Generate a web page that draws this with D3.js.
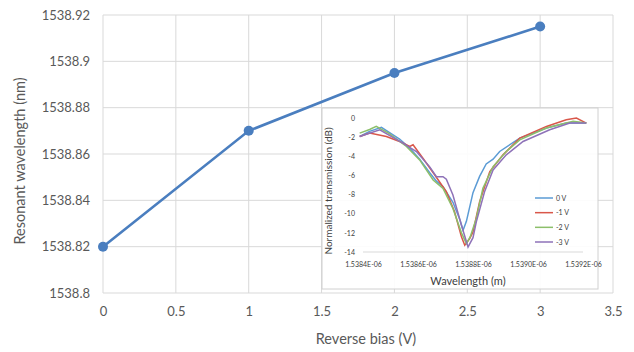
<!DOCTYPE html>
<html>
<head>
<meta charset="utf-8">
<script src="https://cdn.jsdelivr.net/npm/d3@7"></script>
<style>
  body { margin: 0; background: #fff; }
  svg { display: block; }
  text { font-family: Lato, "Open Sans", sans-serif; }
</style>
</head>
<body>
<svg id="chart" width="634" height="352"></svg>
<script>
// Resonance shift versus reverse bias
const biasVolts = [0, 1, 2, 3];
const resonantNm = [1538.82, 1538.87, 1538.895, 1538.915];
const biasTicks = [0, 0.5, 1, 1.5, 2, 2.5, 3, 3.5];
const resonantTicks = [1538.8, 1538.82, 1538.84, 1538.86, 1538.88, 1538.9, 1538.92];

// Inset: normalized transmission spectra (wavelength in nm, transmission in dB)
const spectrumLabels = ["0 V", "-1 V", "-2 V", "-3 V"];
const spectrumColors = ["#5b9bd5", "#d9574a", "#8cbf6a", "#8e72b8"];
const wl0V  = [1538.388, 1538.424, 1538.467, 1538.533, 1538.570, 1538.606, 1538.642, 1538.667, 1538.691, 1538.727, 1538.752, 1538.764, 1538.776, 1538.800, 1538.824, 1538.848, 1538.873, 1538.897, 1538.970, 1539.067, 1539.139, 1539.212];
const dB0V  = [-1.93, -1.40, -0.98, -2.20, -3.15, -4.30, -5.70, -6.60, -7.18, -8.80, -10.60, -11.73, -10.80, -7.80, -6.10, -4.80, -4.30, -3.50, -2.10, -1.05, -0.53, -0.53];
const wl1V  = [1538.388, 1538.424, 1538.485, 1538.533, 1538.570, 1538.582, 1538.618, 1538.661, 1538.703, 1538.733, 1538.758, 1538.770, 1538.788, 1538.800, 1538.824, 1538.861, 1538.909, 1538.970, 1539.067, 1539.139, 1539.176, 1539.212];
const dB1V  = [-1.93, -1.58, -1.93, -2.45, -2.98, -2.80, -4.20, -5.95, -7.70, -9.80, -12.40, -13.30, -12.60, -11.90, -8.75, -5.60, -3.85, -2.10, -0.88, -0.18, 0.00, -0.53];
const wl2V  = [1538.388, 1538.424, 1538.448, 1538.494, 1538.558, 1538.606, 1538.655, 1538.691, 1538.727, 1538.758, 1538.776, 1538.790, 1538.812, 1538.836, 1538.873, 1538.921, 1538.970, 1539.067, 1539.164, 1539.212];
const dB2V  = [-1.58, -1.20, -0.88, -1.60, -2.98, -4.38, -6.48, -7.35, -9.45, -12.00, -13.13, -12.40, -10.50, -7.35, -5.08, -3.50, -2.28, -1.05, -0.35, -0.53];
const wl3V  = [1538.388, 1538.461, 1538.545, 1538.594, 1538.642, 1538.667, 1538.691, 1538.703, 1538.727, 1538.758, 1538.782, 1538.800, 1538.812, 1538.842, 1538.873, 1538.921, 1538.982, 1539.079, 1539.152, 1539.212];
const dB3V  = [-1.93, -1.23, -2.63, -3.50, -5.08, -6.13, -6.13, -6.40, -8.05, -11.20, -13.48, -12.50, -10.85, -7.70, -5.43, -3.85, -2.45, -1.23, -0.53, -0.53];
const wavelengthTicks = [1538.4, 1538.6, 1538.8, 1539.0, 1539.2];
const transmissionTicks = [0, -2, -4, -6, -8, -10, -12, -14];

const svg = d3.select("#chart");
const textColor = "#595959";
const gridColor = "#d9d9d9";

// ---- main chart ----
const x = d3.scaleLinear().domain([0, 3.5]).range([103, 613]);
const y = d3.scaleLinear().domain([1538.8, 1538.92]).range([293, 15]);

const grid = svg.append("g");
grid.selectAll("line.h").data(resonantTicks).join("line")
  .attr("x1", x(0)).attr("x2", x(3.5))
  .attr("y1", d => y(d)).attr("y2", d => y(d))
  .attr("stroke", gridColor).attr("stroke-width", 1);
grid.selectAll("line.v").data(biasTicks).join("line")
  .attr("x1", d => x(d)).attr("x2", d => x(d))
  .attr("y1", y(1538.8)).attr("y2", y(1538.92))
  .attr("stroke", gridColor).attr("stroke-width", 1);

const yAxis = d3.axisLeft(y).tickValues(resonantTicks)
  .tickFormat(d => String(+d.toFixed(2))).tickSize(0).tickPadding(13);
svg.append("g").attr("transform", `translate(${x(0)},0)`).call(yAxis)
  .call(g => g.select(".domain").remove())
  .selectAll("text").attr("fill", textColor).style("font-size", "13px")
  .style("font-family", "Lato, sans-serif");

const xAxis = d3.axisBottom(x).tickValues(biasTicks)
  .tickFormat(d => String(d)).tickSize(0).tickPadding(14);
svg.append("g").attr("transform", `translate(0,${y(1538.8)})`).call(xAxis)
  .call(g => g.select(".domain").remove())
  .selectAll("text").attr("fill", textColor).style("font-size", "13px")
  .style("font-family", "Lato, sans-serif");

svg.append("text")
  .attr("x", 366).attr("y", 344).attr("text-anchor", "middle")
  .attr("fill", textColor).style("font-size", "14.5px")
  .text("Reverse bias (V)");
svg.append("text")
  .attr("transform", "translate(25,161) rotate(-90)").attr("text-anchor", "middle")
  .attr("fill", textColor).style("font-size", "14.5px")
  .text("Resonant wavelength (nm)");

const mainData = biasVolts.map((v, i) => [v, resonantNm[i]]);
svg.append("path").datum(mainData)
  .attr("fill", "none").attr("stroke", "#4a7ebf").attr("stroke-width", 2.6)
  .attr("d", d3.line().x(d => x(d[0])).y(d => y(d[1])));
svg.selectAll("circle.pt").data(mainData).join("circle")
  .attr("cx", d => x(d[0])).attr("cy", d => y(d[1])).attr("r", 5)
  .attr("fill", "#4a7ebf");

// ---- inset spectra ----
const inset = svg.append("g");
inset.append("rect")
  .attr("x", 322).attr("y", 108).attr("width", 276).attr("height", 181)
  .attr("fill", "#fff").attr("fill-opacity", 0.9)
  .attr("stroke", "#d0d0d0").attr("stroke-width", 1);

const ix = d3.scaleLinear().domain([1538.4, 1539.2]).range([363, 583]);
const iy = d3.scaleLinear().domain([-14, 0]).range([252, 118]);

inset.append("line")
  .attr("x1", ix(1538.4)).attr("x2", ix(1539.2))
  .attr("y1", iy(-14)).attr("y2", iy(-14))
  .attr("stroke", "#d9d9d9");

const iyAxis = d3.axisLeft(iy).tickValues(transmissionTicks)
  .tickFormat(d => String(d)).tickSize(0).tickPadding(8);
inset.append("g").attr("transform", `translate(${ix(1538.4)},0)`).call(iyAxis)
  .call(g => g.select(".domain").remove())
  .selectAll("text").attr("fill", "#404040").style("font-size", "7px")
  .style("font-family", "Lato, sans-serif");

const ixAxis = d3.axisBottom(ix).tickValues(wavelengthTicks)
  .tickFormat(d => (d / 1000).toFixed(4) + "E-06").tickSize(0).tickPadding(10);
inset.append("g").attr("transform", `translate(0,${iy(-14)})`).call(ixAxis)
  .call(g => g.select(".domain").remove())
  .selectAll("text").attr("fill", "#404040").style("font-size", "7px")
  .style("font-family", "Lato, sans-serif");

inset.append("text")
  .attr("x", 468).attr("y", 285).attr("text-anchor", "middle")
  .attr("fill", "#404040").style("font-size", "11px")
  .text("Wavelength (m)");
inset.append("text")
  .attr("transform", "translate(332,191) rotate(-90)").attr("text-anchor", "middle")
  .attr("fill", "#404040").style("font-size", "10px")
  .text("Normalized transmission (dB)");

const spectra = [[wl0V, dB0V], [wl1V, dB1V], [wl2V, dB2V], [wl3V, dB3V]]
  .map(([w, t]) => w.map((v, i) => [v, t[i]]));
const specLine = d3.line().x(d => ix(d[0])).y(d => iy(d[1]));
inset.selectAll("path.spec").data(spectra).join("path")
  .attr("fill", "none")
  .attr("stroke", (d, i) => spectrumColors[i])
  .attr("stroke-width", 1.5)
  .attr("d", specLine);

// legend
const legendY = d3.scalePoint().domain(spectrumLabels).range([198, 242]);
const legend = inset.selectAll("g.leg").data(spectrumLabels).join("g")
  .attr("transform", d => `translate(535,${legendY(d)})`);
legend.append("line").attr("x1", 0).attr("x2", 18)
  .attr("stroke", (d, i) => spectrumColors[i]).attr("stroke-width", 1.5);
legend.append("text").attr("x", 21).attr("y", 2.5)
  .attr("fill", "#404040").style("font-size", "7px").text(d => d);
</script>
</body>
</html>
